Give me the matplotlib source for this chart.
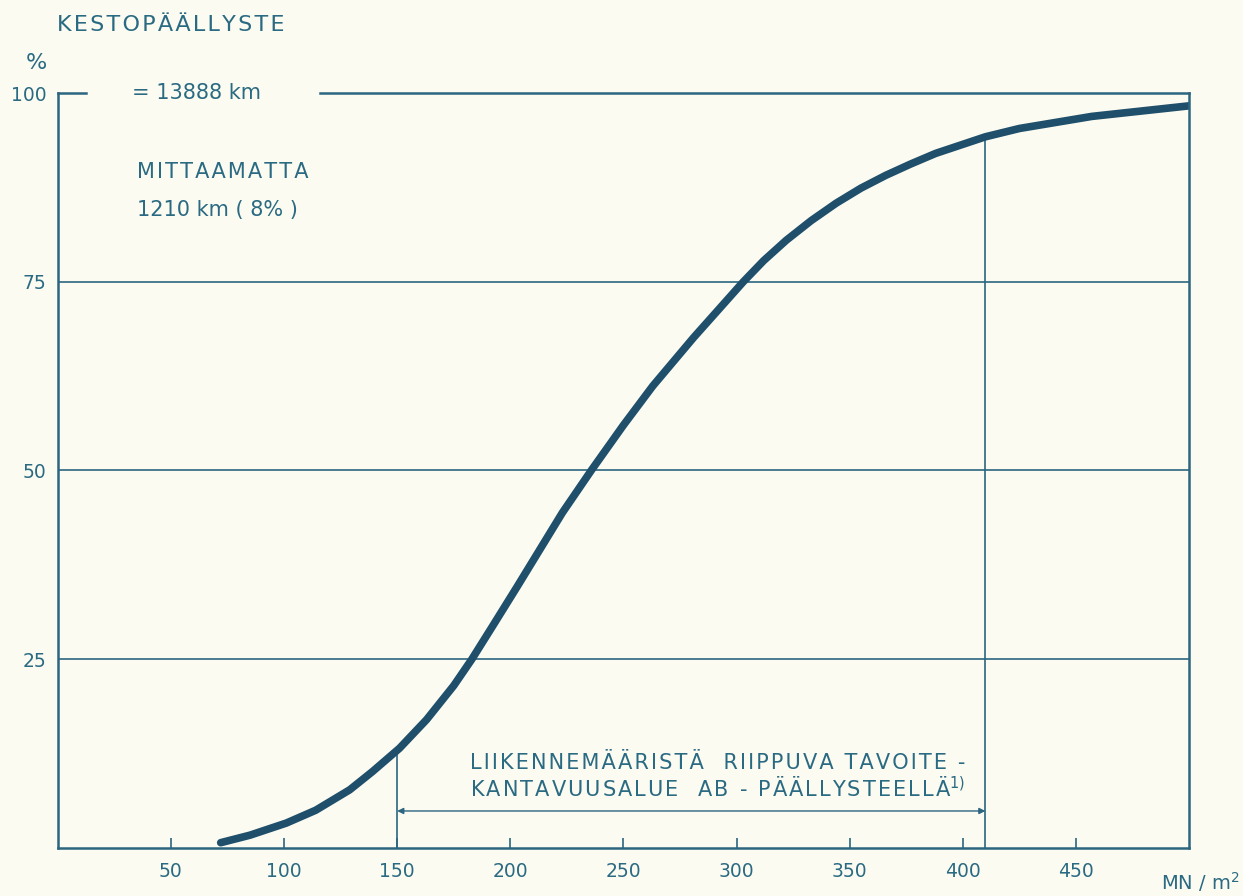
import matplotlib.pyplot as plt

# Curve: bearing capacity (MN/m2) vs cumulative share (%)
capacity = [72, 85, 101, 114, 129, 139, 151, 163, 175, 183, 192, 203, 213,
            223, 236, 250, 263, 281, 292, 303, 312, 322, 333, 344, 355, 366,
            377, 388, 410, 425, 457, 500]
share = [0.7, 1.7, 3.3, 5.0, 7.7, 10.1, 13.2, 17.0, 21.5, 25.0, 29.3, 34.6,
         39.5, 44.4, 50.1, 56.0, 61.2, 67.6, 71.3, 75.0, 77.8, 80.5, 83.1,
         85.4, 87.4, 89.1, 90.6, 92.0, 94.2, 95.3, 96.9, 98.3]

x_ticks = [50, 100, 150, 200, 250, 300, 350, 400, 450]
y_ticks = [25, 50, 75, 100]
grid_levels = [25, 50, 75]

range_start, range_end = 150, 410
range_start_share, range_end_share = 13.0, 94.2

bg = "#fcfbf1"
line_col = "#2b6580"
curve_col = "#1f4f6b"
text_col = "#2a6a82"

plt.rcParams["font.family"] = ["DejaVu Sans"]


def spread(s):
    # old drafting lettering is wide, so pad letters with hair spaces
    return "\u200a".join(s)


fig = plt.figure(figsize=(12.43, 8.96), dpi=100, facecolor=bg)
ax = fig.add_axes([0.0465, 0.0536, 0.9101, 0.8426])
ax.set_facecolor(bg)
ax.set_xlim(0, 500)
ax.set_ylim(0, 100)

for s in ["left", "right", "bottom"]:
    ax.spines[s].set_color(line_col)
    ax.spines[s].set_linewidth(1.8)
ax.spines["top"].set_visible(False)

# broken top line around the total length text
ax.plot([0, 12.5], [100, 100], color=line_col, lw=1.8, clip_on=False)
ax.plot([116, 500], [100, 100], color=line_col, lw=1.8, clip_on=False)

for g in grid_levels:
    ax.axhline(g, color=line_col, lw=1.2)

ax.plot([range_start, range_start], [0, range_start_share], color=line_col, lw=1.2)
ax.plot([range_end, range_end], [0, range_end_share], color=line_col, lw=1.2)

ax.plot(capacity, share, color=curve_col, lw=5.5, solid_capstyle="round",
        solid_joinstyle="round")

ax.annotate("", xy=(range_start, 4.9), xytext=(range_end, 4.9),
            arrowprops=dict(arrowstyle="<|-|>", color=line_col, lw=1.0,
                            mutation_scale=9, shrinkA=0, shrinkB=0))

ax.set_xticks(x_ticks)
ax.set_yticks(y_ticks)
ax.tick_params(axis="x", direction="in", length=7, width=1.2, color=line_col,
               pad=10, labelsize=13.5, labelcolor=text_col)
ax.tick_params(axis="y", length=0, pad=8, labelsize=13.5, labelcolor=text_col)

fs = 15
ax.text(33, 100, "= 13888 km", fontsize=15, color=text_col, va="center")
ax.text(35, 89.5, spread("MITTAAMATTA"), fontsize=fs, color=text_col, va="center")
ax.text(35, 84.5, "1210 km ( 8% )", fontsize=fs, color=text_col, va="center")
ax.text(182, 11.2, spread("LIIKENNEMÄÄRISTÄ  RIIPPUVA TAVOITE -"), fontsize=fs,
        color=text_col, va="center")
ax.text(182, 7.9, spread("KANTAVUUSALUE  AB - PÄÄLLYSTEELLÄ") + "$^{1)}$",
        fontsize=fs, color=text_col, va="center")

fig.text(57 / 1243, 1 - 25 / 896, spread("KESTOPÄÄLLYSTE"), fontsize=16,
         color=text_col, va="center", ha="left")
fig.text(36 / 1243, 1 - 63 / 896, "%", fontsize=16, color=text_col,
         va="center", ha="center")
fig.text(1200 / 1243, 1 - 882 / 896, "MN / m$^2$", fontsize=14,
         color=text_col, va="center", ha="center")

fig.savefig("out.png", dpi=100, facecolor=bg)
